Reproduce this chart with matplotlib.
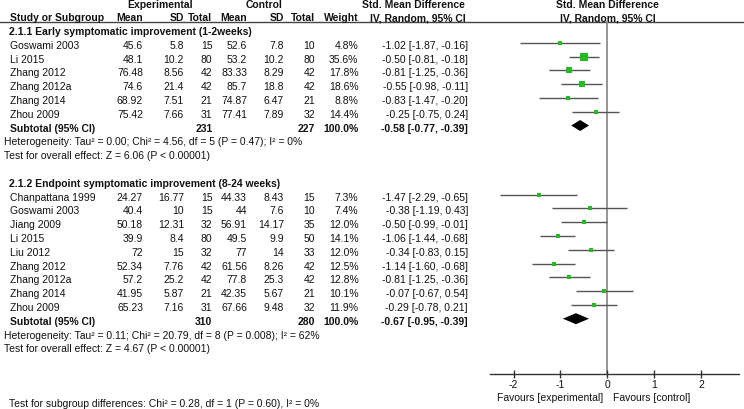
import matplotlib
matplotlib.use("Agg")
import matplotlib.pyplot as plt

plt.rcParams['font.family'] = ['Liberation Sans', 'DejaVu Sans']
plt.rcParams['axes.unicode_minus'] = False

# ---------------- data ----------------
g1_title = "2.1.1 Early symptomatic improvement (1-2weeks)"
g1_study = ["Goswami 2003", "Li 2015", "Zhang 2012", "Zhang 2012a", "Zhang 2014", "Zhou 2009"]
g1_e_mean = [45.6, 48.1, 76.48, 74.6, 68.92, 75.42]
g1_e_sd = [5.8, 10.2, 8.56, 21.4, 7.51, 7.66]
g1_e_n = [15, 80, 42, 42, 21, 31]
g1_c_mean = [52.6, 53.2, 83.33, 85.7, 74.87, 77.41]
g1_c_sd = [7.8, 10.2, 8.29, 18.8, 6.47, 7.89]
g1_c_n = [10, 80, 42, 42, 21, 32]
g1_weight = [4.8, 35.6, 17.8, 18.6, 8.8, 14.4]
g1_smd = [-1.02, -0.50, -0.81, -0.55, -0.83, -0.25]
g1_lo = [-1.87, -0.81, -1.25, -0.98, -1.47, -0.75]
g1_hi = [-0.16, -0.18, -0.36, -0.11, -0.20, 0.24]
g1_total = [231, 227]
g1_pooled = [-0.58, -0.77, -0.39]
g1_het = "Heterogeneity: Tau\u00b2 = 0.00; Chi\u00b2 = 4.56, df = 5 (P = 0.47); I\u00b2 = 0%"
g1_test = "Test for overall effect: Z = 6.06 (P < 0.00001)"

g2_title = "2.1.2 Endpoint symptomatic improvement (8-24 weeks)"
g2_study = ["Chanpattana 1999", "Goswami 2003", "Jiang 2009", "Li 2015", "Liu 2012",
            "Zhang 2012", "Zhang 2012a", "Zhang 2014", "Zhou 2009"]
g2_e_mean = [24.27, 40.4, 50.18, 39.9, 72, 52.34, 57.2, 41.95, 65.23]
g2_e_sd = [16.77, 10, 12.31, 8.4, 15, 7.76, 25.2, 5.87, 7.16]
g2_e_n = [15, 15, 32, 80, 32, 42, 42, 21, 31]
g2_c_mean = [44.33, 44, 56.91, 49.5, 77, 61.56, 77.8, 42.35, 67.66]
g2_c_sd = [8.43, 7.6, 14.17, 9.9, 14, 8.26, 25.3, 5.67, 9.48]
g2_c_n = [15, 10, 35, 50, 33, 42, 42, 21, 32]
g2_weight = [7.3, 7.4, 12.0, 14.1, 12.0, 12.5, 12.8, 10.1, 11.9]
g2_smd = [-1.47, -0.38, -0.50, -1.06, -0.34, -1.14, -0.81, -0.07, -0.29]
g2_lo = [-2.29, -1.19, -0.99, -1.44, -0.83, -1.60, -1.25, -0.67, -0.78]
g2_hi = [-0.65, 0.43, -0.01, -0.68, 0.15, -0.68, -0.36, 0.54, 0.21]
g2_total = [310, 280]
g2_pooled = [-0.67, -0.95, -0.39]
g2_het = "Heterogeneity: Tau\u00b2 = 0.11; Chi\u00b2 = 20.79, df = 8 (P = 0.008); I\u00b2 = 62%"
g2_test = "Test for overall effect: Z = 4.67 (P < 0.00001)"

subgroup_test = "Test for subgroup differences: Chi\u00b2 = 0.28, df = 1 (P = 0.60), I\u00b2 = 0%"
x_ticks = [-2, -1, 0, 1, 2]
favours_left = "Favours [experimental]"
favours_right = "Favours [control]"

# ---------------- layout ----------------
W, H = 744, 410
FS = 7.5
TXT = '#111111'
ROW0, PITCH = 29.9, 13.8
BASE_OFF = 5.2           # text baseline below the row line
ZERO_PX, UNIT_PX = 607.3, 46.8
LEFT_PX, RIGHT_PX = 490, 739

def row_y(r):
    return ROW0 + r * PITCH

fig = plt.figure(figsize=(W / 100, H / 100), dpi=100)
tax = fig.add_axes([0, 0, 1, 1])
tax.set_xlim(0, W)
tax.set_ylim(H, 0)
tax.axis('off')

fax = fig.add_axes([LEFT_PX / W, 0, (RIGHT_PX - LEFT_PX) / W, 1])
fax.set_xlim((LEFT_PX - ZERO_PX) / UNIT_PX, (RIGHT_PX - ZERO_PX) / UNIT_PX)
fax.set_ylim(H, 0)
fax.patch.set_visible(False)

def t(x, y, s, ha='left', bold=False, va='baseline'):
    tax.text(x, y, s, ha=ha, va=va, fontsize=FS, color=TXT,
             fontweight='bold' if bold else 'normal')

# headers
t(160.5, 4.8, "Experimental", ha='center', bold=True, va='center')
t(264.5, 4.8, "Control", ha='center', bold=True, va='center')
t(413, 4.8, "Std. Mean Difference", ha='center', bold=True, va='center')
t(607, 4.8, "Std. Mean Difference", ha='center', bold=True, va='center')
hy = 21.3
t(9.5, hy, "Study or Subgroup", bold=True)
COLS = [143, 184, 212.5, 247, 284, 315, 358.5]
for x, s in zip(COLS, ["Mean", "SD", "Total", "Mean", "SD", "Total", "Weight"]):
    t(x, hy, s, ha='right', bold=True)
t(418, hy, "IV, Random, 95% CI", ha='center', bold=True)
t(607.5, hy, "IV, Random, 95% CI", ha='center', bold=True)
tax.plot([0, W], [23, 23], color='#444444', lw=1.0)

def fmt(v):
    return f"{v:g}"

def draw_group(r0, title, study, em, esd, en, cm, csd, cn, w, smd, lo, hi, tot, pooled, het, test):
    t(9, row_y(r0) + BASE_OFF, title, bold=True)
    for i in range(len(study)):
        r = r0 + 1 + i
        yb = row_y(r) + BASE_OFF
        t(10, yb, study[i])
        vals = [fmt(em[i]), fmt(esd[i]), str(en[i]), fmt(cm[i]), fmt(csd[i]), str(cn[i]),
                f"{w[i]:.1f}%"]
        for x, s in zip(COLS, vals):
            t(x, yb, s, ha='right')
        t(468, yb, f"{smd[i]:.2f} [{lo[i]:.2f}, {hi[i]:.2f}]", ha='right')
        yl = row_y(r)
        fax.plot([lo[i], hi[i]], [yl, yl], color='#555555', lw=1.0, solid_capstyle='butt')
        side_px = max(1.2 * w[i] ** 0.5, 3.3)
        fax.plot(smd[i], yl, marker='s', ms=side_px * 0.72, color='#22bb22', mec='#22bb22',
                 mew=0, ls='none')
    rs = r0 + 1 + len(study)
    yb = row_y(rs) + BASE_OFF
    t(10, yb, "Subtotal (95% CI)", bold=True)
    t(COLS[2], yb, str(tot[0]), ha='right', bold=True)
    t(COLS[5], yb, str(tot[1]), ha='right', bold=True)
    t(COLS[6], yb, "100.0%", ha='right', bold=True)
    t(468, yb, f"{pooled[0]:.2f} [{pooled[1]:.2f}, {pooled[2]:.2f}]", ha='right', bold=True)
    yd = row_y(rs)
    hh = 5.5
    fax.fill([pooled[1], pooled[0], pooled[2], pooled[0]], [yd, yd - hh, yd, yd + hh],
             color='black', lw=0)
    t(4, row_y(rs + 1) + BASE_OFF, het)
    t(4, row_y(rs + 2) + BASE_OFF, test)
    return rs + 2

end1 = draw_group(0, g1_title, g1_study, g1_e_mean, g1_e_sd, g1_e_n, g1_c_mean, g1_c_sd, g1_c_n,
                  g1_weight, g1_smd, g1_lo, g1_hi, g1_total, g1_pooled, g1_het, g1_test)
end2 = draw_group(end1 + 2, g2_title, g2_study, g2_e_mean, g2_e_sd, g2_e_n, g2_c_mean, g2_c_sd,
                  g2_c_n, g2_weight, g2_smd, g2_lo, g2_hi, g2_total, g2_pooled, g2_het, g2_test)

axis_y = row_y(end2 + 2)
# zero line
fax.plot([0, 0], [23, axis_y], color='#8c8c8c', lw=1.3, zorder=0)

# bottom axis
for s in ['top', 'left', 'right']:
    fax.spines[s].set_visible(False)
fax.spines['bottom'].set_position(('data', axis_y))
fax.spines['bottom'].set_color('#333333')
fax.spines['bottom'].set_linewidth(1.0)
fax.set_yticks([])
fax.set_xticks(x_ticks)
fax.set_xticklabels([str(v) for v in x_ticks])
fax.tick_params(axis='x', direction='inout', length=6, width=1.0, color='#333333',
                labelsize=FS, labelcolor=TXT, pad=0.5)

fav_y = 401.5
fax.text(-0.09, fav_y, favours_left, ha='right', va='baseline', fontsize=FS, color=TXT)
fax.text(0.12, fav_y, favours_right, ha='left', va='baseline', fontsize=FS, color=TXT)

t(9, 407.5, subgroup_test)

fig.savefig("out.png", dpi=100)
